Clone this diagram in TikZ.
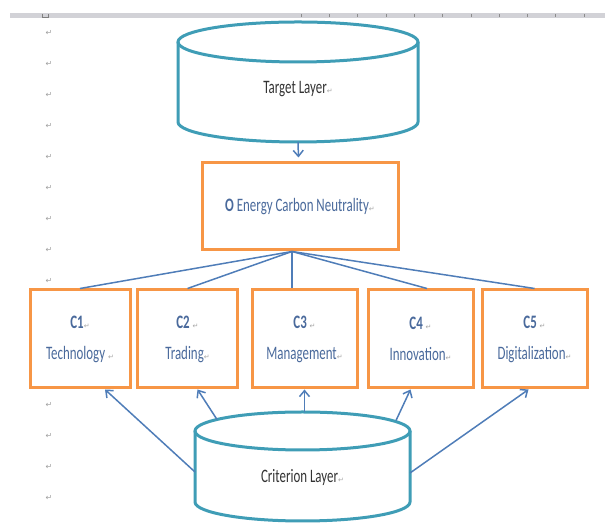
\documentclass[tikz,border=0pt]{standalone}
\usepackage{fontspec}
\setmainfont{Carlito}[FakeStretch=0.68]
\newfontfamily\markfont{DejaVu Sans}
\usetikzlibrary{arrows.meta}

\definecolor{boxorange}{HTML}{F79646}
\definecolor{cylteal}{HTML}{3F9DB6}
\definecolor{linkblue}{HTML}{4F7DB8}
\definecolor{labelblue}{HTML}{4A6A9C}
\definecolor{rulergrey}{HTML}{D2D2D7}

% paragraph sign after each label
\newcommand{\pmark}{{\markfont\fontsize{7}{7}\selectfont\color{gray!70}↵}}

\tikzset{
  layer/.style={draw=cylteal, line width=3pt},
  objbox/.style={draw=boxorange, line width=3pt, fill=white, minimum width=196pt, minimum height=87pt, text=labelblue, font=\fontsize{19}{22}\selectfont},
  critbox/.style={draw=boxorange, line width=3pt, fill=white, minimum width=100pt, minimum height=98pt, align=center, text=labelblue, font=\fontsize{19}{22}\selectfont},
  link/.style={draw=linkblue, line width=1.5pt},
  uplink/.style={link, -{Straight Barb[length=6pt,width=10pt]}},
  parmark/.style={font=\markfont\fontsize{8}{8}\selectfont, text=gray!75, inner sep=0pt},
}

\begin{document}
\begin{tikzpicture}[x=1pt,y=1pt]
\useasboundingbox (0,0) rectangle (605,529);

% ruler strip
\fill[rulergrey] (10,511) rectangle (605,516);
\foreach \t in {301,329.3,...,590} \draw[gray!90, line width=0.5pt] (\t,512) -- (\t,515);
\draw[gray, line width=0.6pt] (42,515) -- (42,512) -- (48,512) -- (48,515);

% paragraph signs down the margin
\node[parmark] (p1) at (49,496) {↵};
\node[parmark] (p2) at (49,465) {↵};
\node[parmark] (p3) at (49,434) {↵};
\node[parmark] (p4) at (49,403) {↵};
\node[parmark] (p5) at (49,372) {↵};
\node[parmark] (p6) at (49,341) {↵};
\node[parmark] (p7) at (49,310) {↵};
\node[parmark] (p8) at (49,279) {↵};
\node[parmark] (p9) at (49,248) {↵};
\node[parmark] (p10) at (49,124) {↵};
\node[parmark] (p11) at (49,93) {↵};
\node[parmark] (p12) at (49,62) {↵};
\node[parmark] (p13) at (49,31) {↵};

% target layer drum
\draw[layer] (178,487) -- (178,407) arc[start angle=180, end angle=360, x radius=120pt, y radius=20pt] -- (418,487);
\draw[layer] (298,487) ellipse[x radius=120pt, y radius=20pt];
\node[font=\fontsize{19}{22}\selectfont, text=black!80] (target) at (298,440) {Target Layer\pmark};
\coordinate (tbase) at (298,387);

% goal
\node[objbox] (obj) at (300,322.5) {\textbf{O} Energy Carbon Neutrality\pmark};

% criteria
\node[critbox] (c1) at (80,190) {\textbf{C1}\pmark\\[9pt]Technology \pmark};
\node[critbox] (c2) at (187.5,190) {\textbf{C2} \pmark\\[9pt]Trading\pmark};
\node[critbox, minimum width=105pt] (c3) at (304.5,190) {\textbf{C3} \pmark\\[9pt]Management\pmark};
\node[critbox, minimum width=105pt] (c4) at (420.5,190) {\textbf{C4} \pmark\\[9pt]Innovation\pmark};
\node[critbox, minimum width=105pt] (c5) at (534.5,190) {\textbf{C5} \pmark\\[9pt]Digitalization\pmark};

\draw[uplink, shorten >=4pt] (tbase) -- (obj);

\coordinate (hub) at ([xshift=-8pt]obj.south);
\draw[link] (hub) -- (c1.north);
\draw[link] (hub) -- (c2.north);
\draw[link] (hub) -- ([xshift=-12.5pt]c3.north);
\draw[link] (hub) -- ([xshift=6.5pt]c4.north);
\draw[link] (hub) -- (c5.north);

% criterion layer drum
\draw[layer] (195,98) -- (195,27) arc[start angle=180, end angle=360, x radius=107.5pt, y radius=19pt] -- (410,98);
\draw[layer] (302.5,98) ellipse[x radius=107.5pt, y radius=19pt];
\node[font=\fontsize{19}{22}\selectfont, text=black!80] (crit) at (302.5,52) {Criterion Layer\pmark};

\coordinate (s1) at (195,57);
\coordinate (s2) at (217,109.5);
\coordinate (s3) at (304.5,117);
\coordinate (s4) at (396,108.5);
\coordinate (s5) at (410,56);

\draw[uplink] (s1) -- ([xshift=25pt]c1.south);
\draw[uplink] (s2) -- ([xshift=10pt]c2.south);
\draw[uplink] (s3) -- (c3.south);
\draw[uplink] (s4) -- ([xshift=-10pt]c4.south);
\draw[uplink] (s5) -- ([xshift=-6pt]c5.south);
\end{tikzpicture}
\end{document}
